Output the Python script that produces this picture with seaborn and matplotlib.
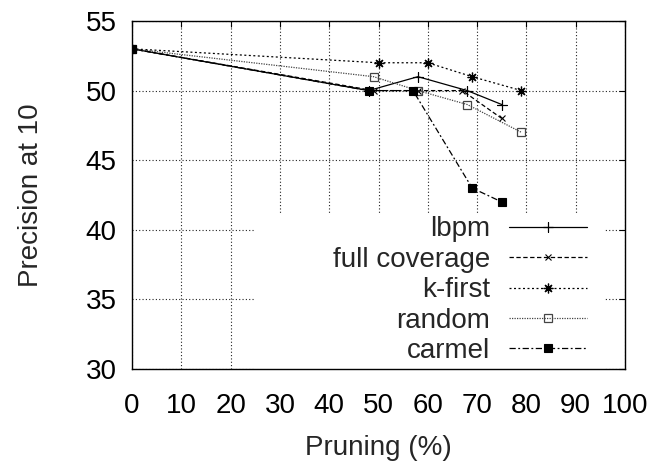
import matplotlib
matplotlib.use("Agg")
import matplotlib.pyplot as plt
import seaborn as sns
import pandas as pd
from matplotlib.patches import Rectangle

# ---- data ----
series_names = ["lbpm", "full coverage", "k-first", "random", "carmel"]
lbpm_x = [0, 48, 58, 68, 75]
lbpm_y = [53, 50, 51, 50, 49]
full_x = [0, 49, 58, 67, 75]
full_y = [53, 50, 50, 50, 48]
kfirst_x = [0, 50, 60, 69, 79]
kfirst_y = [53, 52, 52, 51, 50]
random_x = [0, 49, 58, 68, 79]
random_y = [53, 51, 50, 49, 47]
carmel_x = [0, 48, 57, 69, 75]
carmel_y = [53, 50, 50, 43, 42]
x_ticks = list(range(0, 101, 10))
y_ticks = list(range(30, 56, 5))

sns.set_theme(style="white")
plt.rcParams["font.family"] = ["Liberation Sans", "DejaVu Sans"]

fig = plt.figure(figsize=(6.55, 4.66), dpi=100)
ax = fig.add_axes([132 / 655, 1 - 369 / 466, (625 - 132) / 655, (369 - 21) / 466])

styles = {
    "lbpm": dict(marker=(4, 2, 0), linestyle="-", color="black", ms=7, mew=0.8),
    "full coverage": dict(marker="x", linestyle=(0, (3.5, 2.0)), color="black", ms=5, mew=0.8),
    "k-first": dict(marker=(8, 2, 0), linestyle=(0, (1.6, 2.0)), color="black", ms=7, mew=0.9),
    "random": dict(marker="s", linestyle=(0, (1.0, 1.0)), color="#444444", ms=5.5, mew=0.9, mfc="none"),
    "carmel": dict(marker="s", linestyle=(0, (5, 2, 1.5, 2)), color="black", ms=5.5, mew=0.8),
}
data = {
    "lbpm": (lbpm_x, lbpm_y),
    "full coverage": (full_x, full_y),
    "k-first": (kfirst_x, kfirst_y),
    "random": (random_x, random_y),
    "carmel": (carmel_x, carmel_y),
}

for name in series_names:
    xs, ys = data[name]
    st = dict(styles[name])
    color = st.pop("color")
    ms = st.pop("ms")
    mew = st.pop("mew")
    mfc = st.pop("mfc", color)
    df = pd.DataFrame({"x": xs, "y": ys})
    sns.lineplot(data=df, x="x", y="y", ax=ax, color=color, linewidth=0.9,
                 markersize=ms, markeredgewidth=mew, markeredgecolor=color,
                 markerfacecolor=mfc, label=name, zorder=3, **st)

ax.set_xlim(0, 100)
ax.set_ylim(30, 55)
ax.set_xticks(x_ticks)
ax.set_yticks(y_ticks)
ax.grid(True, color="#222222", linestyle=(0, (1, 2)), linewidth=0.8)
ax.set_axisbelow(True)

# white background of the key (covers grid)
ax.add_patch(Rectangle((0.25, 0.0), 0.71, 0.448, transform=ax.transAxes,
                       facecolor="white", edgecolor="none", zorder=1.5))

for s in ax.spines.values():
    s.set_visible(True)
    s.set_color("black")
    s.set_linewidth(1.0)

ax.tick_params(axis="both", which="both", direction="in", length=4, width=0.8,
               top=True, right=True, labelsize=20, colors="black")
ax.tick_params(axis="x", pad=17)
ax.tick_params(axis="y", pad=11)

ax.set_xlabel("Pruning (%)", fontsize=20, labelpad=12)
ax.set_ylabel("Precision at 10", fontsize=20, labelpad=30)

handles, labels = ax.get_legend_handles_labels()
leg = ax.legend(handles, labels, loc="lower right", bbox_to_anchor=(0.968, -0.05),
                frameon=False, markerfirst=False, fontsize=20, handlelength=2.8,
                handletextpad=0.7, labelspacing=0.16, borderpad=0.3, numpoints=1)
leg.set_zorder(4)

fig.savefig("out.png", dpi=100)
